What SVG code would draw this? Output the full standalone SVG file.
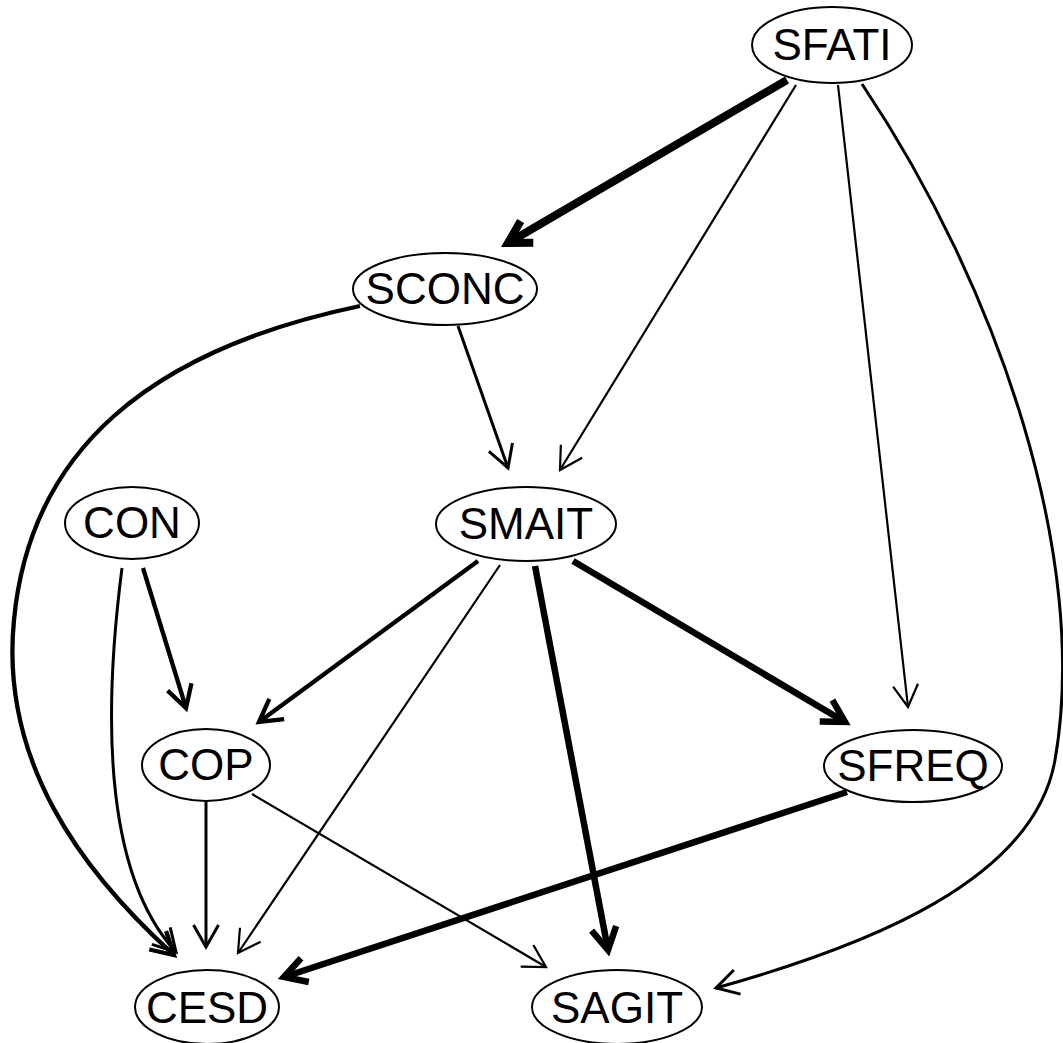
<svg xmlns="http://www.w3.org/2000/svg" width="1063" height="1043" viewBox="0 0 1063 1043">
<style>
.node ellipse{fill:#fff;stroke:#000;stroke-width:2}
.node text{font-family:"Liberation Sans",Arial,sans-serif;font-size:44px;text-anchor:middle;fill:#000}
.e{fill:none;stroke:#000;stroke-linecap:butt}
.w2{stroke-width:2.2;marker-end:url(#a2)}
.w3{stroke-width:3;marker-end:url(#a3)}
.w4{stroke-width:4.3;marker-end:url(#a4)}
.w6{stroke-width:6.5;marker-end:url(#a6)}
.w8{stroke-width:8;marker-end:url(#a8)}
</style>
<defs>
<marker id="a2" viewBox="-30 -20 40 40" refX="0" refY="0" markerWidth="40" markerHeight="40" markerUnits="userSpaceOnUse" orient="auto" overflow="visible"><path d="M-22,-12.5 L0,0 L-22,12.5" fill="none" stroke="#000" stroke-width="2.2"/></marker>
<marker id="a3" viewBox="-30 -20 40 40" refX="0" refY="0" markerWidth="40" markerHeight="40" markerUnits="userSpaceOnUse" orient="auto" overflow="visible"><path d="M-22,-12.5 L0,0 L-22,12.5" fill="none" stroke="#000" stroke-width="3"/></marker>
<marker id="a4" viewBox="-30 -20 40 40" refX="0" refY="0" markerWidth="40" markerHeight="40" markerUnits="userSpaceOnUse" orient="auto" overflow="visible"><path d="M-22,-12.5 L0,0 L-22,12.5" fill="none" stroke="#000" stroke-width="4.3"/></marker>
<marker id="a6" viewBox="-30 -20 40 40" refX="0" refY="0" markerWidth="40" markerHeight="40" markerUnits="userSpaceOnUse" orient="auto" overflow="visible"><path d="M-22,-12.5 L0,0 L-22,12.5" fill="none" stroke="#000" stroke-width="6.5"/></marker>
<marker id="a8" viewBox="-30 -20 40 40" refX="0" refY="0" markerWidth="40" markerHeight="40" markerUnits="userSpaceOnUse" orient="auto" overflow="visible"><path d="M-22,-12.5 L0,0 L-22,12.5" fill="none" stroke="#000" stroke-width="8"/></marker>
</defs>
<rect width="1063" height="1043" fill="#fff"/>
<g id="edges">
<path class="e w8" d="M787,80 L508,243"/>
<path class="e w2" d="M796,85 L560,470"/>
<path class="e w2" d="M838,85 L908,707"/>
<path class="e w3" d="M862,84 C1000,290 1090,560 1055,760 C1034,880 870,945 716,988"/>
<path class="e w3" d="M458,326 L508,468"/>
<path class="e w4" d="M360,306 C150,350 30,450 14,620 C0,760 80,870 174,955"/>
<path class="e w3" d="M122,568 C105,700 100,870 176,952"/>
<path class="e w4" d="M143,568 L186,708"/>
<path class="e w4" d="M478,561 L259,722"/>
<path class="e w2" d="M500,565 L238,953"/>
<path class="e w6" d="M535,566 L608,950"/>
<path class="e w6" d="M573,561 L845,722"/>
<path class="e w3" d="M206,801 L206,947"/>
<path class="e w2" d="M252,794 L546,967"/>
<path class="e w6" d="M847,792 L284,977"/>
</g>
<g id="SFATI" class="node"><ellipse cx="832" cy="45" rx="80" ry="38"/><text x="832" y="60">SFATI</text></g>
<g id="SCONC" class="node"><ellipse cx="445" cy="289" rx="92" ry="36"/><text x="445" y="304">SCONC</text></g>
<g id="CON" class="node"><ellipse cx="132" cy="523" rx="67" ry="36"/><text x="132" y="538">CON</text></g>
<g id="SMAIT" class="node"><ellipse cx="526" cy="524" rx="90" ry="37"/><text x="526" y="539">SMAIT</text></g>
<g id="COP" class="node"><ellipse cx="206" cy="765" rx="64" ry="36"/><text x="206" y="780">COP</text></g>
<g id="SFREQ" class="node"><ellipse cx="913" cy="766" rx="89" ry="36"/><text x="913" y="781">SFREQ</text></g>
<g id="CESD" class="node"><ellipse cx="207" cy="1007" rx="72" ry="37"/><text x="207" y="1023">CESD</text></g>
<g id="SAGIT" class="node"><ellipse cx="617" cy="1007" rx="85" ry="37"/><text x="617" y="1023">SAGIT</text></g>
</svg>
